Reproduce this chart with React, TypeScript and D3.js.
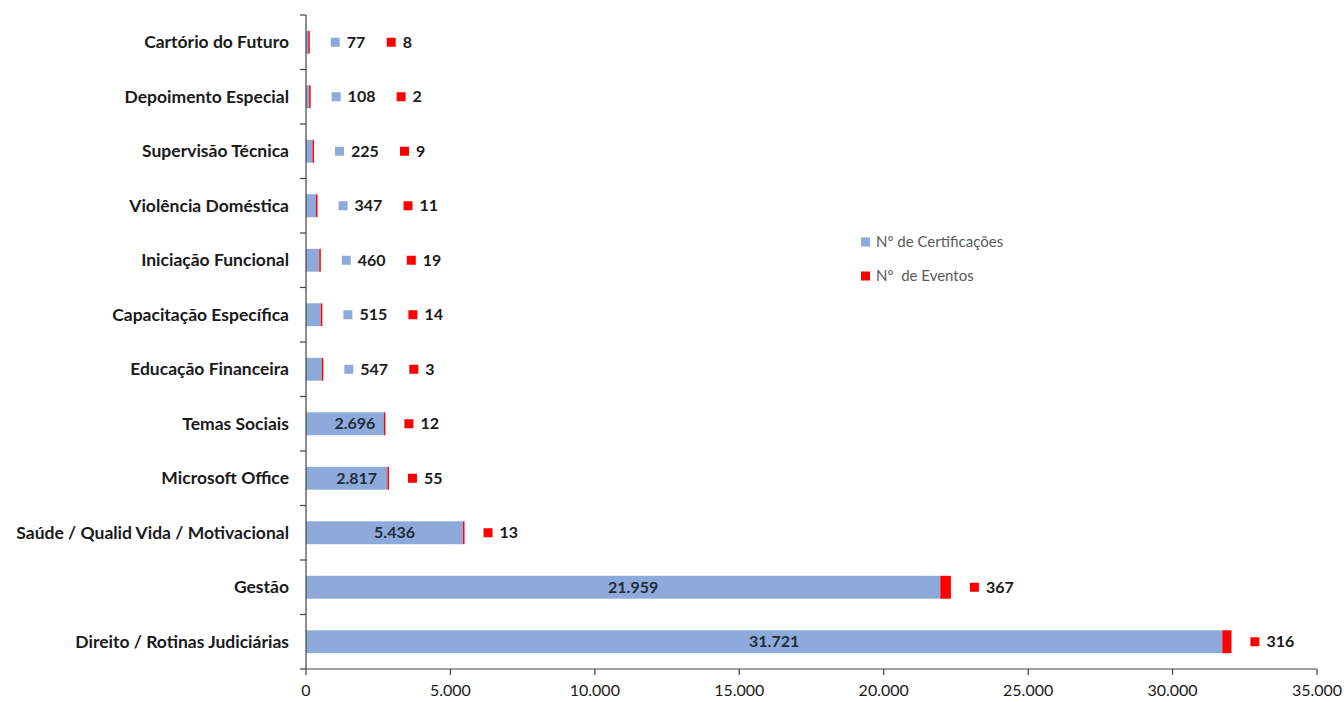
import { useEffect } from "react";
import * as d3 from "d3";

const categories = [
  "Cartório do Futuro",
  "Depoimento Especial",
  "Supervisão Técnica",
  "Violência Doméstica",
  "Iniciação Funcional",
  "Capacitação Específica",
  "Educação Financeira",
  "Temas Sociais",
  "Microsoft Office",
  "Saúde / Qualid Vida / Motivacional",
  "Gestão",
  "Direito / Rotinas Judiciárias",
];
const certificacoes = [77, 108, 225, 347, 460, 515, 547, 2696, 2817, 5436, 21959, 31721];
const eventos = [8, 2, 9, 11, 19, 14, 3, 12, 55, 13, 367, 316];
const xTicks = [0, 5000, 10000, 15000, 20000, 25000, 30000, 35000];
const seriesNames = ["Nº de Certificações", "Nº  de Eventos"];

const BLUE = "#8eaadb";
const RED = "#ff0000";
const FONT = "Lato, 'Open Sans', sans-serif";

const fmt = (v: number) => d3.format(",")(v).replace(/,/g, ".");

export default function App() {
  useEffect(() => {
    document.body.style.margin = "0";
  }, []);

  const width = 1344;
  const height = 702;
  const x = d3.scaleLinear().domain([0, 35000]).range([306, 1317]);
  const y = d3.scaleBand().domain(categories).range([15, 669]).paddingInner(0.58).paddingOuter(0.29);
  const step = y.step();
  const bh = y.bandwidth();
  const boundaries = d3.range(categories.length + 1).map((i) => 15 + i * step);

  return (
    <svg width={width} height={height} style={{ display: "block", background: "#fff" }}>
      {/* bars */}
      {categories.map((c, i) => {
        const yb = y(c)!;
        const cv = certificacoes[i];
        const ev = eventos[i];
        const xEnd = x(cv);
        const rw = Math.max(1.5, x(cv + ev) - x(cv));
        const total = xEnd + rw;
        const inside = cv > 1000;
        const cy = yb + bh / 2;
        let blueLabel;
        let redX;
        if (inside) {
          blueLabel = (
            <text x={(x(0) + xEnd) / 2 + 10} y={cy} dy="0.35em" textAnchor="middle"
              fontFamily={FONT} fontWeight="bold" fontSize={16} fill="#1f2d3d">
              {fmt(cv)}
            </text>
          );
          redX = total + 19;
        } else {
          const sq = total + 21;
          const tw = String(cv).length * 9;
          blueLabel = (
            <g>
              <rect x={sq} y={cy - 4.5} width={9} height={9} fill={BLUE} />
              <text x={sq + 16} y={cy} dy="0.35em" fontFamily={FONT} fontWeight="bold" fontSize={16} fill="#1a1a1a">
                {fmt(cv)}
              </text>
            </g>
          );
          redX = sq + 16 + tw + 22;
        }
        return (
          <g key={c}>
            <rect x={x(0)} y={yb} width={xEnd - x(0)} height={bh} fill={BLUE} />
            <rect x={xEnd} y={yb} width={rw} height={bh} fill={RED} />
            {blueLabel}
            <rect x={redX} y={cy - 4.5} width={9} height={9} fill={RED} />
            <text x={redX + 16} y={cy} dy="0.35em" fontFamily={FONT} fontWeight="bold" fontSize={16} fill="#1a1a1a">
              {fmt(ev)}
            </text>
          </g>
        );
      })}

      {/* y axis */}
      <line x1={306} x2={306} y1={15} y2={669} stroke="#404040" strokeWidth={1.2} />
      {boundaries.map((b) => (
        <line key={b} x1={300} x2={306} y1={b} y2={b} stroke="#404040" strokeWidth={1.2} />
      ))}
      {categories.map((c) => (
        <text key={c} x={289} y={y(c)! + bh / 2} dy="0.35em" textAnchor="end"
          fontFamily={FONT} fontWeight="bold" fontSize={17.5} fill="#1a1a1a">
          {c}
        </text>
      ))}

      {/* x axis */}
      <line x1={306} x2={1317} y1={669} y2={669} stroke="#404040" strokeWidth={1.2} />
      {xTicks.map((t) => (
        <g key={t}>
          <line x1={x(t)} x2={x(t)} y1={669} y2={675} stroke="#404040" strokeWidth={1.2} />
          <text x={x(t)} y={690} dy="0.35em" textAnchor="middle" fontFamily={FONT} fontSize={16} fill="#1a1a1a">
            {fmt(t)}
          </text>
        </g>
      ))}

      {/* legend */}
      {seriesNames.map((s, i) => (
        <g key={s} transform={`translate(861,${242 + i * 34})`}>
          <rect x={0} y={-4.5} width={9} height={9} fill={i === 0 ? BLUE : RED} />
          <text x={15} y={0} dy="0.35em" fontFamily={FONT} fontSize={15} fill="#595959" style={{ whiteSpace: "pre" }}>
            {s}
          </text>
        </g>
      ))}
    </svg>
  );
}
